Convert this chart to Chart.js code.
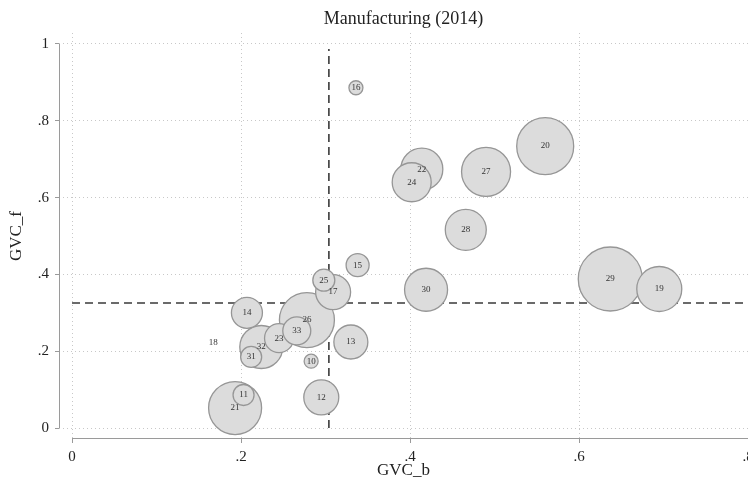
<!DOCTYPE html>
<html>
<head>
<meta charset="utf-8">
<script src="https://cdn.jsdelivr.net/npm/chart.js@4"></script>
<style>
body { margin: 0; background: #fff; overflow: hidden; }
#wrap { width: 748px; height: 490px; }
</style>
</head>
<body>
<div id="wrap"><canvas id="myChart" width="748" height="490"></canvas></div>
<script>
// sector codes, listed biggest bubble first so small ones sit on top
const sectors    = ['29', '20', '26', '21', '27', '19', '30', '32', '22', '28', '24', '17', '12', '13', '14', '23', '33', '15', '25', '11', '31', '10', '16', '18'];
const gvcB       = [0.637, 0.560, 0.278, 0.193, 0.490, 0.695, 0.419, 0.224, 0.414, 0.466, 0.402, 0.309, 0.295, 0.330, 0.207, 0.245, 0.266, 0.338, 0.298, 0.203, 0.212, 0.283, 0.336, 0.167];
const gvcF       = [0.388, 0.734, 0.281, 0.052, 0.667, 0.362, 0.360, 0.211, 0.674, 0.516, 0.640, 0.354, 0.080, 0.224, 0.300, 0.234, 0.253, 0.424, 0.385, 0.086, 0.185, 0.174, 0.886, 0.222];
const bubbleSize = [32, 28.5, 27.5, 26.5, 24.5, 22.5, 21.5, 21.5, 21, 20.5, 19.5, 17.5, 17.5, 17, 15.5, 14.5, 14, 11.5, 11, 10.5, 10.5, 7, 7, 0];

const xTicks = [0, 0.2, 0.4, 0.6, 0.8];
const yTicks = [0, 0.2, 0.4, 0.6, 0.8, 1];

// mean lines
const refB = 0.304;
const refF = 0.3255;
const refTop = 0.987;

Chart.defaults.font.family = "'Liberation Serif', 'Times New Roman', serif";
Chart.defaults.color = '#222';

function stataFmt(v) {
    if (v === 0) return '0';
    if (v === 1) return '1';
    return String(+v.toFixed(1)).replace(/^0/, '');
}

const axisLines = {
    id: 'axisLines',
    beforeDatasetsDraw(chart) {
        const { ctx, chartArea, scales: { x, y } } = chart;
        ctx.save();
        ctx.strokeStyle = '#9a9a9a';
        ctx.lineWidth = 1;
        ctx.beginPath();
        ctx.moveTo(chartArea.left + 0.5, y.getPixelForValue(1));
        ctx.lineTo(chartArea.left + 0.5, y.getPixelForValue(0));
        ctx.moveTo(x.getPixelForValue(0), chartArea.bottom - 0.5);
        ctx.lineTo(chartArea.right, chartArea.bottom - 0.5);
        ctx.stroke();
        ctx.restore();
    }
};

const bubbleLabels = {
    id: 'bubbleLabels',
    afterDatasetsDraw(chart) {
        const meta = chart.getDatasetMeta(0);
        const ctx = chart.ctx;
        ctx.save();
        ctx.font = "9px 'Liberation Serif'";
        ctx.fillStyle = '#333';
        ctx.textAlign = 'center';
        ctx.textBaseline = 'middle';
        meta.data.forEach((pt, i) => ctx.fillText(sectors[i], pt.x, pt.y));
        ctx.restore();
    }
};

const points = sectors.map((s, i) => ({ x: gvcB[i], y: gvcF[i], r: bubbleSize[i] }));

var ctx = document.getElementById('myChart').getContext('2d');
var myChart = new Chart(ctx, {
    type: 'bubble',
    data: {
        datasets: [{
            label: 'sectors',
            data: points,
            backgroundColor: 'rgb(220, 220, 220)',
            borderColor: 'rgb(150, 150, 150)',
            borderWidth: 1.3,
            order: 0
        }, {
            type: 'line',
            label: 'mean b',
            data: [{ x: refB, y: 0 }, { x: refB, y: refTop }],
            borderColor: '#3a3a3a',
            borderWidth: 1.6,
            borderDash: [8, 5],
            pointRadius: 0,
            order: 1
        }, {
            type: 'line',
            label: 'mean f',
            data: [{ x: 0, y: refF }, { x: 0.8, y: refF }],
            borderColor: '#3a3a3a',
            borderWidth: 1.6,
            borderDash: [8, 5],
            pointRadius: 0,
            order: 1
        }]
    },
    options: {
        responsive: false,
        animation: false,
        layout: { padding: 0, autoPadding: false },
        plugins: {
            legend: { display: false },
            tooltip: { enabled: false },
            title: {
                display: true,
                text: 'Manufacturing (2014)',
                fullSize: false,
                color: '#222',
                font: { size: 18, weight: 'normal' },
                padding: { top: 8, bottom: 3.4 }
            }
        },
        scales: {
            x: {
                type: 'linear',
                min: -0.0154,
                max: 0.8,
                afterBuildTicks: s => { s.ticks = xTicks.map(v => ({ value: v })); },
                afterFit: s => { s.height = 51; s.paddingLeft = 0; s.paddingRight = 0; },
                grid: { color: '#c8c8c8', lineWidth: 1, tickLength: 4, tickColor: '#9a9a9a', tickWidth: 1 },
                border: { display: false, dash: [1, 3] },
                ticks: { autoSkip: false, maxRotation: 0, padding: 5, color: '#222', font: { size: 15 }, callback: stataFmt },
                title: { display: true, text: 'GVC_b', color: '#222', font: { size: 17 }, padding: { top: 0, bottom: 9 } }
            },
            y: {
                type: 'linear',
                min: -0.0286,
                max: 1.0286,
                afterBuildTicks: s => { s.ticks = yTicks.map(v => ({ value: v })); },
                afterFit: s => { s.width = 59; s.paddingTop = 0; s.paddingBottom = 0; },
                grid: { color: '#c8c8c8', lineWidth: 1, tickLength: 4, tickColor: '#9a9a9a', tickWidth: 1 },
                border: { display: false, dash: [1, 3] },
                ticks: { autoSkip: false, padding: 6, color: '#222', font: { size: 15 }, callback: stataFmt },
                title: { display: true, text: 'GVC_f', color: '#222', font: { size: 17 }, padding: { top: 6, bottom: 0 } }
            }
        }
    },
    plugins: [axisLines, bubbleLabels]
});
</script>
</body>
</html>
